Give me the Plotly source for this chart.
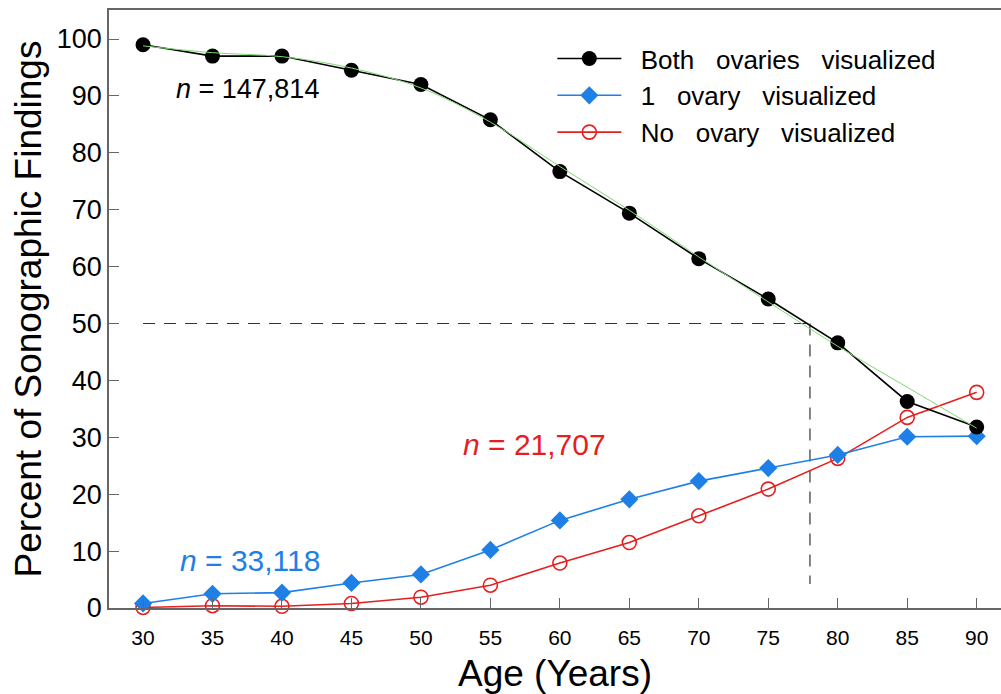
import plotly.graph_objects as go

ages = [30, 35, 40, 45, 50, 55, 60, 65, 70, 75, 80, 85, 90]
both = [99.0, 97.0, 97.0, 94.5, 92.0, 85.8, 76.7, 69.4, 61.4, 54.3, 46.6, 36.3, 31.8]
one = [0.8, 2.5, 2.7, 4.4, 5.9, 10.2, 15.4, 19.1, 22.3, 24.6, 26.9, 30.1, 30.2]
none_ = [0.1, 0.4, 0.3, 0.8, 1.9, 4.0, 7.9, 11.5, 16.2, 20.9, 26.3, 33.5, 37.9]
both_fit = [98.8, 97.6, 96.9, 94.9, 91.4, 85.4, 77.6, 69.9, 61.7, 53.8, 46.0, 38.8, 31.6]

threshold_pct = 50
crossing_age = 78
dash_bottom = 4.2

legend_names = ["\u00a0\u00a0Both\u00a0\u00a0 ovaries\u00a0\u00a0 visualized",
                "\u00a0\u00a01\u00a0\u00a0 ovary\u00a0\u00a0 visualized",
                "\u00a0\u00a0No\u00a0\u00a0 ovary\u00a0\u00a0 visualized"]
n_labels = ["<i>n</i> = 147,814", "<i>n</i> = 33,118", "<i>n</i> = 21,707"]
n_pos = [(37.5, 91.2), (37.7, 8.4), (58.2, 28.7)]
n_sizes = [27, 30, 30]

BLACK = "#000000"
BLUE = "#1e80e6"
RED = "#e51f1f"
GREEN = "#7fd973"
FONT = "Arial, Liberation Sans, sans-serif"

fig = go.Figure()

# reference dashed lines
fig.add_trace(go.Scatter(x=[ages[0], crossing_age], y=[threshold_pct, threshold_pct],
                         mode="lines", line=dict(color="#333333", width=1.2, dash="12px,9px"),
                         showlegend=False, hoverinfo="skip"))
fig.add_trace(go.Scatter(x=[crossing_age, crossing_age], y=[threshold_pct, dash_bottom],
                         mode="lines", line=dict(color="#333333", width=1.2, dash="12px,9px"),
                         showlegend=False, hoverinfo="skip"))

fig.add_trace(go.Scatter(x=ages, y=none_, mode="lines+markers", name=legend_names[2],
                         line=dict(color=RED, width=1.6),
                         marker=dict(symbol="circle-open", size=14, color=RED, line=dict(width=1.6)),
                         cliponaxis=False, legendrank=3))
fig.add_trace(go.Scatter(x=ages, y=one, mode="lines+markers", name=legend_names[1],
                         line=dict(color=BLUE, width=1.6),
                         marker=dict(symbol="diamond", size=14, color=BLUE),
                         cliponaxis=False, legendrank=2))
fig.add_trace(go.Scatter(x=ages, y=both, mode="lines+markers", name=legend_names[0],
                         line=dict(color=BLACK, width=1.6),
                         marker=dict(symbol="circle", size=15, color=BLACK),
                         cliponaxis=False, legendrank=1))
fig.add_trace(go.Scatter(x=ages, y=both_fit, mode="lines", line=dict(color=GREEN, width=1, shape="spline"),
                         showlegend=False, hoverinfo="skip"))

colors = [BLACK, BLUE, RED]
for txt, (ax, ay), c, s in zip(n_labels, n_pos, colors, n_sizes):
    fig.add_annotation(x=ax, y=ay, text=txt, showarrow=False,
                       font=dict(family=FONT, size=s, color=c))

fig.update_layout(
    width=1001, height=694,
    margin=dict(l=109, r=0, t=10, b=86),
    paper_bgcolor="white", plot_bgcolor="white",
    font=dict(family=FONT, color="black"),
    showlegend=True,
    legend=dict(x=0.497, y=0.958, xanchor="left", yanchor="top",
                font=dict(family=FONT, size=26, color="black"),
                itemwidth=64, bgcolor="rgba(0,0,0,0)", tracegroupgap=0,
                traceorder="normal"),
    xaxis=dict(range=[27.55, 91.75], tickmode="array", tickvals=ages,
               ticks="inside", ticklen=10, tickcolor="#666666", tickwidth=1,
               showline=True, linecolor="#666666", linewidth=1.5, mirror=True,
               showgrid=False, zeroline=False,
               tickfont=dict(family=FONT, size=21, color="black"),
               ticklabelstandoff=10,
               title=dict(text="Age (Years)", font=dict(family=FONT, size=37, color="black"), standoff=14)),
    yaxis=dict(range=[0, 105.1], tickmode="array", tickvals=list(range(0, 101, 10)),
               ticks="inside", ticklen=10, tickcolor="#666666", tickwidth=1,
               showline=True, linecolor="#666666", linewidth=1.5,
               showgrid=False, zeroline=False,
               tickfont=dict(family=FONT, size=27, color="black"),
               ticklabelstandoff=0,
               title=dict(text="Percent of Sonographic Findings", font=dict(family=FONT, size=37, color="black"), standoff=4)),
)

fig.write_html("out.html")
